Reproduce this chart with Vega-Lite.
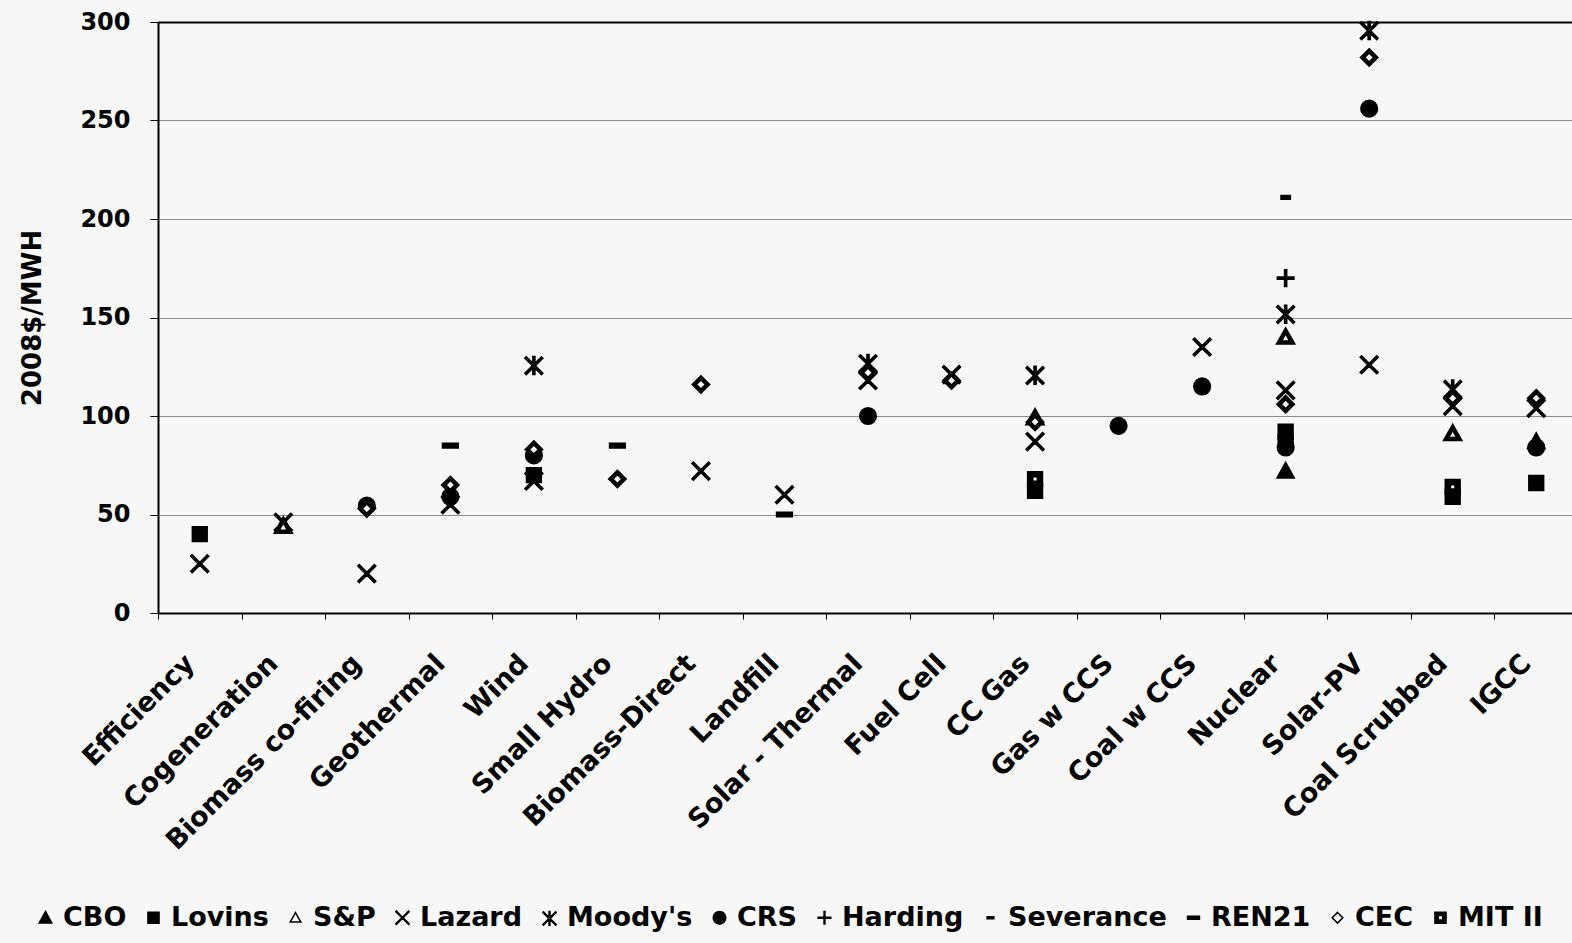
{
  "$schema": "https://vega.github.io/schema/vega-lite/v6.json",
  "width": 1414,
  "height": 591,
  "autosize": {"type": "none"},
  "padding": {"left": 158, "top": 22, "right": 0, "bottom": 330},
  "background": "#f6f7f6",
  "config": {
    "view": {"stroke": null},
    "font": "DejaVu Sans",
    "axis": {"labelFont": "DejaVu Sans", "titleFont": "DejaVu Sans"},
    "legend": {"labelFont": "DejaVu Sans"}
  },
  "data": {
    "values": [
      {"tech": "Nuclear", "source": "CBO", "cost": 72},
      {"tech": "IGCC", "source": "CBO", "cost": 87},

      {"tech": "Efficiency", "source": "Lovins", "cost": 40},
      {"tech": "Wind", "source": "Lovins", "cost": 70},
      {"tech": "CC Gas", "source": "Lovins", "cost": 62},
      {"tech": "Nuclear", "source": "Lovins", "cost": 92},
      {"tech": "Coal Scrubbed", "source": "Lovins", "cost": 59},
      {"tech": "IGCC", "source": "Lovins", "cost": 66},

      {"tech": "Cogeneration", "source": "S&P", "cost": 44},
      {"tech": "CC Gas", "source": "S&P", "cost": 99},
      {"tech": "Nuclear", "source": "S&P", "cost": 140},
      {"tech": "Coal Scrubbed", "source": "S&P", "cost": 91},

      {"tech": "Efficiency", "source": "Lazard", "cost": 25},
      {"tech": "Cogeneration", "source": "Lazard", "cost": 46},
      {"tech": "Biomass co-firing", "source": "Lazard", "cost": 20},
      {"tech": "Geothermal", "source": "Lazard", "cost": 55},
      {"tech": "Wind", "source": "Lazard", "cost": 67},
      {"tech": "Biomass-Direct", "source": "Lazard", "cost": 72},
      {"tech": "Landfill", "source": "Lazard", "cost": 60},
      {"tech": "Solar - Thermal", "source": "Lazard", "cost": 118},
      {"tech": "Fuel Cell", "source": "Lazard", "cost": 121},
      {"tech": "CC Gas", "source": "Lazard", "cost": 87},
      {"tech": "Coal w CCS", "source": "Lazard", "cost": 135},
      {"tech": "Nuclear", "source": "Lazard", "cost": 113},
      {"tech": "Solar-PV", "source": "Lazard", "cost": 126},
      {"tech": "Coal Scrubbed", "source": "Lazard", "cost": 105},
      {"tech": "IGCC", "source": "Lazard", "cost": 104},

      {"tech": "Wind", "source": "Moody's", "cost": 126},
      {"tech": "Solar - Thermal", "source": "Moody's", "cost": 127},
      {"tech": "CC Gas", "source": "Moody's", "cost": 121},
      {"tech": "Nuclear", "source": "Moody's", "cost": 152},
      {"tech": "Solar-PV", "source": "Moody's", "cost": 296},
      {"tech": "Coal Scrubbed", "source": "Moody's", "cost": 114},

      {"tech": "Biomass co-firing", "source": "CRS", "cost": 54.5},
      {"tech": "Geothermal", "source": "CRS", "cost": 59},
      {"tech": "Wind", "source": "CRS", "cost": 80},
      {"tech": "Solar - Thermal", "source": "CRS", "cost": 100},
      {"tech": "Gas w CCS", "source": "CRS", "cost": 95},
      {"tech": "Coal w CCS", "source": "CRS", "cost": 115},
      {"tech": "Nuclear", "source": "CRS", "cost": 84},
      {"tech": "Solar-PV", "source": "CRS", "cost": 256},
      {"tech": "IGCC", "source": "CRS", "cost": 84},

      {"tech": "Nuclear", "source": "Harding", "cost": 170},

      {"tech": "Nuclear", "source": "Severance", "cost": 211},

      {"tech": "Geothermal", "source": "REN21", "cost": 85},
      {"tech": "Small Hydro", "source": "REN21", "cost": 85},
      {"tech": "Landfill", "source": "REN21", "cost": 50},

      {"tech": "Biomass co-firing", "source": "CEC", "cost": 53},
      {"tech": "Geothermal", "source": "CEC", "cost": 65},
      {"tech": "Wind", "source": "CEC", "cost": 83},
      {"tech": "Small Hydro", "source": "CEC", "cost": 68},
      {"tech": "Biomass-Direct", "source": "CEC", "cost": 116},
      {"tech": "Solar - Thermal", "source": "CEC", "cost": 122},
      {"tech": "Fuel Cell", "source": "CEC", "cost": 118},
      {"tech": "CC Gas", "source": "CEC", "cost": 97},
      {"tech": "Nuclear", "source": "CEC", "cost": 106},
      {"tech": "Solar-PV", "source": "CEC", "cost": 282},
      {"tech": "Coal Scrubbed", "source": "CEC", "cost": 109},
      {"tech": "IGCC", "source": "CEC", "cost": 109},

      {"tech": "CC Gas", "source": "MIT II", "cost": 68},
      {"tech": "Nuclear", "source": "MIT II", "cost": 87},
      {"tech": "Coal Scrubbed", "source": "MIT II", "cost": 64}
    ]
  },
  "encoding": {
    "x": {
      "field": "tech",
      "type": "nominal",
      "sort": ["Efficiency", "Cogeneration", "Biomass co-firing", "Geothermal", "Wind", "Small Hydro", "Biomass-Direct", "Landfill", "Solar - Thermal", "Fuel Cell", "CC Gas", "Gas w CCS", "Coal w CCS", "Nuclear", "Solar-PV", "Coal Scrubbed", "IGCC"],
      "scale": {"type": "band", "range": [0, 1420], "paddingInner": 0, "paddingOuter": 0},
      "axis": {
        "title": null,
        "labelAngle": -45,
        "labelAlign": "right",
        "labelBaseline": "middle",
        "labelFontSize": 27,
        "labelFontWeight": "bold",
        "labelColor": "black",
        "labelPadding": 40,
        "labelOffset": -10,
        "labelOverlap": false,
        "labelLimit": 0,
        "tickBand": "extent",
        "tickSize": 6,
        "tickColor": "black",
        "domainColor": "black",
        "domainWidth": 2,
        "grid": false
      }
    },
    "y": {
      "field": "cost",
      "type": "quantitative",
      "scale": {"domain": [0, 300], "nice": false},
      "axis": {
        "title": "2008$/MWH",
        "titleFontSize": 26,
        "titleFontWeight": "bold",
        "titleColor": "black",
        "titlePadding": 34,
        "values": [0, 50, 100, 150, 200, 250, 300],
        "labelFontSize": 24,
        "labelFontWeight": "bold",
        "labelColor": "black",
        "labelPadding": 20,
        "tickSize": 8,
        "tickColor": "black",
        "domainColor": "black",
        "domainWidth": 2,
        "grid": true,
        "gridColor": {"condition": {"test": "datum.value === 300", "value": "black"}, "value": "#8c8c8c"},
        "gridWidth": {"condition": {"test": "datum.value === 300", "value": 2}, "value": 1}
      }
    },
    "shape": {
      "field": "source",
      "type": "nominal",
      "scale": {
        "domain": ["CBO", "Lovins", "S&P", "Lazard", "Moody's", "CRS", "Harding", "Severance", "REN21", "CEC", "MIT II"],
        "range": [
          "M0,-0.85L0.85,0.7L-0.85,0.7Z",
          "M-0.75,-0.75H0.75V0.75H-0.75Z",
          "M0,-0.7L0.72,0.58L-0.72,0.58Z",
          "M-0.9,-0.82L-0.82,-0.9L0,-0.08L0.82,-0.9L0.9,-0.82L0.08,0L0.9,0.82L0.82,0.9L0,0.08L-0.82,0.9L-0.9,0.82L-0.08,0Z",
          "M-0.9,-0.72L-0.82,-0.8L0,0.02L0.82,-0.8L0.9,-0.72L0.08,0.1L0.9,0.92L0.82,1L0,0.18L-0.82,1L-0.9,0.92L-0.08,0.1ZM-0.06,-0.85H0.06V1H-0.06Z",
          "M0.85,0A0.85,0.85 0 1,1 -0.85,0A0.85,0.85 0 1,1 0.85,0Z",
          "M-0.06,-0.85H0.06V-0.06H0.85V0.06H0.06V0.85H-0.06V0.06H-0.85V-0.06H-0.06Z",
          "M-0.45,-0.15H0.45V0.15H-0.45Z",
          "M-0.8,-0.2H0.8V0.2H-0.8Z",
          "M0,-0.72L0.72,0L0,0.72L-0.72,0Z",
          "M-0.75,-0.75H0.75V0.75H-0.75ZM-0.3,-0.3V0.3H0.3V-0.3Z"
        ]
      },
      "legend": {
        "title": null,
        "orient": "none",
        "legendX": -126,
        "legendY": 882,
        "direction": "horizontal",
        "padding": 0,
        "labelFontSize": 27,
        "labelFontWeight": "bold",
        "labelColor": "black",
        "labelOffset": 4,
        "symbolSize": 220,
        "symbolOpacity": 1,
        "columnPadding": 13,
        "encode": {
          "symbols": {"update": {"stroke": {"value": "black"}, "strokeWidth": {"value": 2}, "opacity": {"value": 1}}}
        }
      }
    },
    "fill": {
      "field": "source",
      "type": "nominal",
      "scale": {
        "domain": ["CBO", "Lovins", "S&P", "Lazard", "Moody's", "CRS", "Harding", "Severance", "REN21", "CEC", "MIT II"],
        "range": ["black", "black", "#f6f7f6", "black", "black", "black", "black", "black", "black", "#f6f7f6", "black"]
      },
      "legend": {
        "title": null,
        "orient": "none",
        "legendX": -126,
        "legendY": 882,
        "direction": "horizontal",
        "padding": 0,
        "labelFontSize": 27,
        "labelFontWeight": "bold",
        "labelColor": "black",
        "labelOffset": 4,
        "symbolSize": 220,
        "symbolOpacity": 1,
        "columnPadding": 13,
        "encode": {
          "symbols": {"update": {"stroke": {"value": "black"}, "strokeWidth": {"value": 2}, "opacity": {"value": 1}}}
        }
      }
    }
  },
  "layer": [
    {
      "transform": [{"filter": "datum.source !== 'S&P' && datum.source !== 'CEC'"}],
      "mark": {"type": "point", "filled": true, "stroke": "black", "strokeWidth": 2.5, "opacity": 1, "size": 340}
    },
    {
      "transform": [{"filter": "datum.source === 'S&P' || datum.source === 'CEC'"}],
      "mark": {"type": "point", "filled": true, "stroke": "black", "strokeWidth": 4.5, "opacity": 1, "size": 340}
    }
  ]
}
